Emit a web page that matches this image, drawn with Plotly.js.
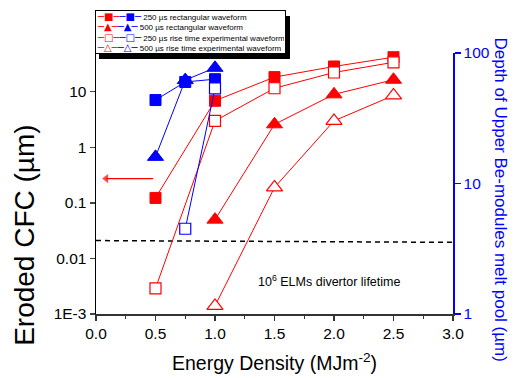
<!DOCTYPE html>
<html>
<head>
<meta charset="utf-8">
<script src="https://cdn.plot.ly/plotly-3.0.1.min.js"></script>
<style>html,body{margin:0;padding:0;background:#fff;}#chart{width:521px;height:378px;}</style>
</head>
<body>
<div id="chart"></div>
<script>
// ---- data ----
const xRect250 = [0.5, 1.0, 1.5, 2.0, 2.5];
const cfcRect250 = [0.123, 6.9, 18.4, 28.6, 42];
const xExp250 = [0.5, 1.0, 1.5, 2.0, 2.5];
const cfcExp250 = [0.0029, 3.0, 11.6, 22.3, 34];
const xRect500 = [1.0, 1.5, 2.0, 2.5];
const cfcRect500 = [0.05, 2.6, 9.0, 16.5];
const xExp500 = [1.0, 1.5, 2.0, 2.5];
const cfcExp500 = [0.0014, 0.19, 3.0, 8.6];

const xBeRect250 = [0.5, 0.75, 1.0];
const beRect250 = [43.6, 60, 63];
const xBeRect500 = [0.5, 0.75, 1.0];
const beRect500 = [16, 62, 77];
const xBeExp250 = [0.75, 1.0];
const beExp250 = [4.5, 53.6];

const lifetimeX = [0, 3];
const lifetimeY = [0.021, 0.0195];

const arrowX = [0.48, 0.085];
const arrowY = [0.274, 0.274];

const leftTickVals = [0.001, 0.01, 0.1, 1, 10];
const leftTickText = ['1E-3', '0.01', '0.1', '1', '10'];
const rightTickVals = [1, 10, 100];
const rightTickText = ['1', '10', '100'];
const seriesNames = ['250 µs rectangular waveform', '500 µs rectangular waveform',
  '250 µs rise time experimental waveform', '500 µs rise time experimental waveform'];

// minor tick positions
const leftMinor = [];
for (let e = -3; e <= 1; e++) for (let m = 2; m <= 9; m++) { const v = m * Math.pow(10, e); if (v <= 50) leftMinor.push(v); }
const rightMinor = [];
for (let e = 0; e <= 1; e++) for (let m = 2; m <= 9; m++) rightMinor.push(m * Math.pow(10, e));

const RED = '#ff0000', BLUE = '#0000ff';
const FONT = 'Arial, "Liberation Sans", sans-serif';

function tr(x, y, color, symbol, open, size, yaxis, name) {
  return {
    x: x, y: y, type: 'scatter', mode: 'lines+markers', name: name, yaxis: yaxis,
    cliponaxis: false, showlegend: false,
    line: {color: color, width: 1},
    marker: {symbol: symbol, size: size, color: open ? '#ffffff' : color,
      line: {color: color, width: open ? 1.2 : 1}}
  };
}

const traces = [
  {x: lifetimeX, y: lifetimeY, type: 'scatter', mode: 'lines', showlegend: false,
   line: {color: '#000', width: 1.5, dash: '5px,4px'}},
  {x: arrowX, y: arrowY, type: 'scatter', mode: 'lines+markers', showlegend: false, cliponaxis: false,
   line: {color: RED, width: 1.2},
   marker: {symbol: ['circle', 'triangle-left'], size: [0, 8], color: RED, line: {width: 0}}},
  tr(xRect250, cfcRect250, RED, 'square', false, 11, 'y', seriesNames[0]),
  tr(xExp250, cfcExp250, RED, 'square', true, 11, 'y', seriesNames[2]),
  tr(xRect500, cfcRect500, RED, 'triangle-up', false, 14, 'y', seriesNames[1]),
  tr(xExp500, cfcExp500, RED, 'triangle-up', true, 14, 'y', seriesNames[3]),
  tr(xBeRect250, beRect250, BLUE, 'square', false, 11, 'y2', seriesNames[0]),
  tr(xBeExp250, beExp250, BLUE, 'square', true, 11, 'y2', seriesNames[2]),
  tr(xBeRect500, beRect500, BLUE, 'triangle-up', false, 14, 'y2', seriesNames[1])
];

// legend (drawn as an annotation with coloured glyphs)
const glyphs = [['■', '■'], ['▲', '▲'], ['□', '□'], ['△', '△']];
const sym = (s, c) => `<span style="color:${c};font-size:10px;font-family:'DejaVu Sans'">─${s}─</span>`;
const legendText = seriesNames.map((n, i) => sym(glyphs[i][0], RED) + sym(glyphs[i][1], BLUE) + ' ' + n).join('<br>');

const layout = {
  width: 521, height: 378,
  margin: {l: 96, r: 68, t: 53, b: 64, pad: 0},
  paper_bgcolor: '#fff', plot_bgcolor: '#fff',
  font: {family: FONT, size: 15.5, color: '#000'},
  showlegend: false,
  xaxis: {range: [0, 3], dtick: 0.5, tick0: 0, tickformat: '.1f', showgrid: false, zeroline: false,
    showline: true, linecolor: '#333', linewidth: 1.5, ticks: 'outside', ticklen: 5, tickwidth: 1.2, tickcolor: '#333',
    minor: {dtick: 0.25, ticks: 'outside', ticklen: 3, tickcolor: '#333', showgrid: false},
    tickfont: {size: 15.5}},
  xaxis2: {overlaying: 'x', anchor: 'y', side: 'top', range: [0, 3], dtick: 0.25, showgrid: false, zeroline: false,
    showline: true, linecolor: '#000', linewidth: 1.5, ticks: 'inside', ticklen: 4, tickwidth: 1.2, showticklabels: false},
  yaxis: {type: 'log', range: [-3, Math.log10(50)], tickvals: leftTickVals, ticktext: leftTickText,
    showgrid: false, zeroline: false, showline: true, linecolor: '#000', linewidth: 1.5,
    ticks: 'outside', ticklen: 5, tickwidth: 1.2, tickfont: {size: 15.5}},
  yaxis3: {type: 'log', overlaying: 'y', anchor: 'x', side: 'left', range: [-3, Math.log10(50)],
    tickvals: leftMinor, showticklabels: false, showgrid: false, zeroline: false, showline: false,
    ticks: 'outside', ticklen: 3, tickwidth: 1},
  yaxis2: {type: 'log', overlaying: 'y', anchor: 'x', side: 'right', range: [0, 2],
    tickvals: rightTickVals, ticktext: rightTickText, showgrid: false, zeroline: false,
    showline: true, linecolor: BLUE, linewidth: 1.5, ticks: 'outside', ticklen: 6, tickwidth: 1.2, tickcolor: BLUE,
    tickfont: {size: 15.5, color: BLUE}},
  yaxis4: {type: 'log', overlaying: 'y', anchor: 'x', side: 'right', range: [0, 2],
    tickvals: rightMinor, showticklabels: false, showgrid: false, zeroline: false, showline: false,
    ticks: 'outside', ticklen: 3, tickwidth: 1, tickcolor: BLUE},
  shapes: [
    {type: 'rect', xref: 'paper', yref: 'paper', x0: 0.0084, x1: 0.5434, y0: 0.977, y1: 1.1418,
     fillcolor: '#000', line: {width: 0}, layer: 'above'}
  ],
  annotations: [
    {xref: 'paper', yref: 'paper', x: -0.003, y: 1.165, xanchor: 'left', yanchor: 'top', align: 'left', valign: 'middle',
     width: 187, height: 40,
     text: legendText, font: {size: 8, color: '#000'}, bgcolor: '#fff', bordercolor: '#000', borderwidth: 1,
     borderpad: 1, showarrow: false},
    {xref: 'x', yref: 'y', x: 1.96, y: -2.405, text: '10<sup>6</sup> ELMs divertor lifetime',
     showarrow: false, font: {size: 12.5, color: '#000'}},
    {xref: 'paper', yref: 'paper', x: -0.199, y: 0.303, xanchor: 'center', yanchor: 'middle', textangle: -90,
     text: 'Eroded CFC (µm)', showarrow: false, font: {size: 28, color: '#000'}},
    {xref: 'paper', yref: 'paper', x: 1.133, y: 0.437, xanchor: 'center', yanchor: 'middle', textangle: 90,
     text: 'Depth of Upper Be-modules melt pool (µm)', showarrow: false, font: {size: 17, color: BLUE}},
    {xref: 'paper', yref: 'paper', x: 0.5, y: -0.183, xanchor: 'center', yanchor: 'middle',
     text: 'Energy Density (MJm<sup>-2</sup>)', showarrow: false, font: {size: 19.5, color: '#000'}}
  ]
};

Plotly.newPlot('chart', traces, layout, {displayModeBar: false, staticPlot: true});
</script>
</body>
</html>
